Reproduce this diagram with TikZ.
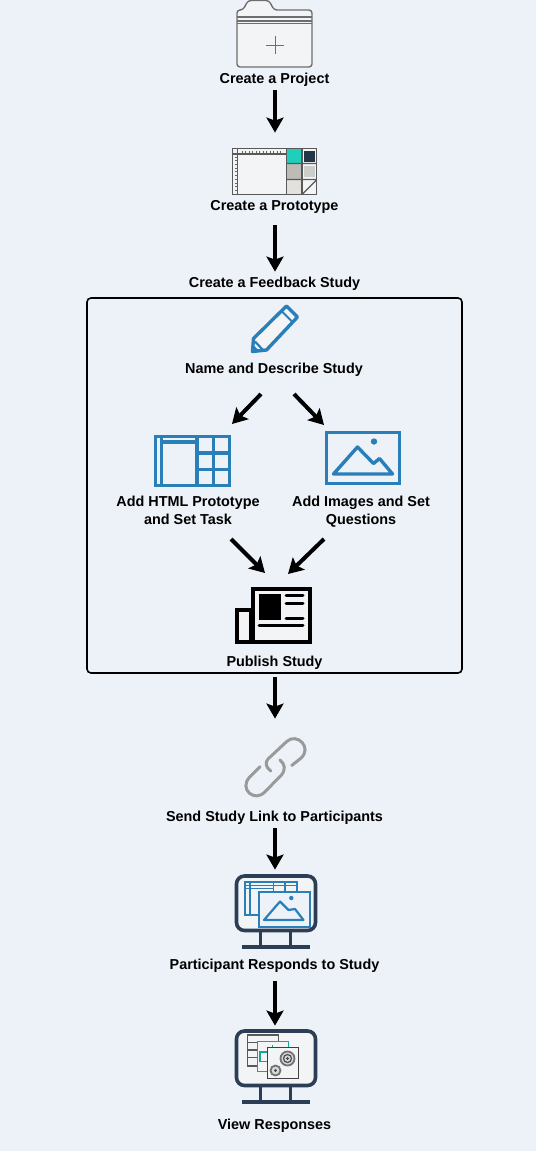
\documentclass[tikz,border=0pt]{standalone}
\usepackage{fontspec}
\setmainfont{Liberation Sans}
\usetikzlibrary{arrows.meta,positioning}
\definecolor{PageBg}{HTML}{EDF2F9}
\definecolor{IconBlue}{HTML}{2B7FB8}
\definecolor{ScreenInk}{HTML}{2B3E55}
\definecolor{FolderGrey}{HTML}{6E6E6E}
\definecolor{LinkGrey}{HTML}{9A9A9A}
\definecolor{ProtoTeal}{HTML}{1FCFBB}
\definecolor{ProtoStone}{HTML}{BDBBB6}
\definecolor{ProtoPale}{HTML}{CDCDC9}
\definecolor{ProtoMist}{HTML}{E2E1DD}
\definecolor{PaperFill}{HTML}{F3F4F6}
\tikzset{
  steplabel/.style={font=\fontsize{7.2}{9}\selectfont\bfseries, align=center, inner sep=0pt, minimum height=12pt},
  iconspot/.style={inner sep=0pt},
  flow/.style={-{Stealth[length=7.5pt,width=8.5pt,inset=1.5pt]}, line width=2pt, black},
  blueline/.style={IconBlue, line width=1.7pt},
  thinblue/.style={IconBlue, line width=0.75pt},
  screenline/.style={ScreenInk, line width=1.8pt},
  protoline/.style={black!65, line width=0.6pt},
}
\begin{document}
\begin{tikzpicture}[x=0.5pt,y=-0.5pt]
  \fill[PageBg] (0,0) rectangle (536,1151);
  \useasboundingbox (0,0) rectangle (536,1151);
  % labels
  \node[steplabel] (lblProject) at (274.5,80) {Create a Project};
  \node[steplabel] (lblProto) at (274.5,207) {Create a Prototype};
  \node[steplabel] (lblStudy) at (274.5,284) {Create a Feedback Study};
  \node[steplabel] (lblName) at (274,370) {Name and Describe Study};
  \node[steplabel] (lblHtml) at (188,510) {Add HTML Prototype\\and Set Task};
  \node[steplabel] (lblImages) at (361,512) {Add Images and Set\\Questions};
  \node[steplabel] (lblPublish) at (274.5,663) {Publish Study};
  \node[steplabel] (lblSend) at (274.5,818) {Send Study Link to Participants};
  \node[steplabel] (lblResponds) at (274.5,966) {Participant Responds to Study};
  \node[steplabel] (lblView) at (274.5,1126) {View Responses};
  % the study frame and the spots that arrows run to
  \node[draw=black, line width=0.8pt, rounded corners=2pt, inner sep=0pt, minimum width=187.5pt, minimum height=187.5pt] (studyBox) at (274.5,485.5) {};
  \node[iconspot, minimum width=42pt, minimum height=32pt] (icProto) at (275,165) {};
  \node[iconspot, minimum width=30pt, minimum height=38pt] (icLink) at (275,757) {};
  \node[iconspot, minimum width=40pt, minimum height=40pt] (icScreenA) at (275,910) {};
  \node[iconspot, minimum width=40pt, minimum height=40pt] (icScreenB) at (275,1066) {};
  \coordinate (nameLeft) at (261,394);
  \coordinate (nameRight) at (294,394);
  \coordinate (htmlTop) at (232,424);
  \coordinate (imageTop) at (324,425);
  \coordinate (htmlOut) at (231,539);
  \coordinate (imageOut) at (324,539);
  \coordinate (publishLeft) at (265,573);
  \coordinate (publishRight) at (288,574);
  % arrows
  \draw[flow, shorten <=-1pt] (lblProject.south -| icProto) -- (icProto.north);
  \draw[flow, shorten <=3pt] (lblProto.south -| icProto) -- (lblStudy.north -| icProto);
  \draw[flow] (nameLeft) -- (htmlTop);
  \draw[flow] (nameRight) -- (imageTop);
  \draw[flow] (htmlOut) -- (publishLeft);
  \draw[flow] (imageOut) -- (publishRight);
  \draw[flow, shorten <=1.5pt] (studyBox.south -| icLink) -- (icLink.north);
  \draw[flow, shorten <=-1pt] (lblSend.south -| icScreenA) -- (icScreenA.north);
  \draw[flow, shorten <=1.5pt] (lblResponds.south -| icScreenB) -- (icScreenB.north);
  % folder
  \draw[FolderGrey, fill=PaperFill, line width=0.7pt, rounded corners=1.5pt]
    (237,67) -- (237,10) -- (243,10) -- (248,0.5) -- (269,0.5) -- (274,10) -- (312,10) -- (312,67) -- cycle;
  \foreach \y/\w in {17/0.9, 21/0.7, 23.5/0.7}
    {\draw[FolderGrey, line width=\w pt] (237,\y) -- (312,\y);}
  \draw[FolderGrey, line width=0.5pt] (266,45) -- (284,45) (275,36) -- (275,54);
  % prototype sheet
  \fill[PaperFill] (232.5,148.5) rectangle (316.5,194.5);
  \fill[ProtoTeal] (287,149) rectangle (302,163.5);
  \fill[ScreenInk!85!black] (303.5,150.5) rectangle (315,161.5);
  \fill[ProtoStone] (287,164) rectangle (302,179);
  \fill[ProtoPale] (304,166) rectangle (315,177);
  \fill[ProtoMist] (287,180) rectangle (302,194);
  \draw[protoline] (232.5,148.5) rectangle (316.5,194.5);
  \draw[protoline] (237.5,148.5) -- (237.5,194.5) (232.5,154) -- (286.5,154);
  \draw[protoline] (286.5,148.5) -- (286.5,194.5) (302,148.5) -- (302,194.5);
  \draw[protoline] (286.5,163.5) -- (316.5,163.5) (286.5,179.5) -- (316.5,179.5) (302,194.5) -- (316.5,180);
  \foreach \x in {0,...,11}
    {\draw[black!60, line width=0.4pt] (242+3.5*\x,150.5) -- (242+3.5*\x,153);}
  \foreach \y in {0,...,9}
    {\draw[black!60, line width=0.4pt] (234.5,157+3.7*\y) -- (237.5,157+3.7*\y);}
  % pencil
  \draw[blueline, fill=PaperFill, line join=round]
    (253.5,338.5) -- (286.5,306) -- (297.5,317) -- (266.5,350) -- (252.5,351.5) -- cycle;
  \draw[IconBlue, line width=1.1pt] (255,341.5) -- (263.5,350.5);
  \draw[IconBlue, line width=1pt] (281.5,311) -- (292.5,322);
  \fill[IconBlue] (252.5,351.5) -- (253.5,345) -- (259,350.5) -- cycle;
  % html layout
  \draw[blueline] (155.5,436.5) rectangle (229.5,485.5);
  \draw[blueline] (161.5,436.5) -- (161.5,485.5) (161.5,442) -- (197,442);
  \draw[blueline] (197,436.5) -- (197,485.5) (213.5,436.5) -- (213.5,485.5);
  \draw[blueline] (197,453) -- (229.5,453) (197,469.5) -- (229.5,469.5);
  % image frame
  \draw[blueline] (326.5,432.5) rectangle (399.5,483.5);
  \draw[blueline, line join=round] (333.5,474) -- (357.5,447) -- (373.5,463.5) -- (379.5,458.5) -- (392.5,474) -- cycle;
  \fill[IconBlue] (374,441.5) circle (1.6pt);
  % newspaper
  \draw[black, fill=PaperFill, line width=2pt] (252.5,588.5) rectangle (310,641.5);
  \draw[black, fill=PaperFill, line width=2pt] (237,609.5) rectangle (251,641.5);
  \fill[black] (259,594) rectangle (281,620);
  \foreach \y in {595,603.5,618.5}
    {\draw[black, line width=1.5pt, line cap=round] (286,\y) -- (303,\y);}
  \draw[black, line width=1.5pt, line cap=round] (259,625.5) -- (303,625.5);
  % chain link
  \draw[LinkGrey, line width=1.5pt, line cap=round]
    (270.7,771) .. controls (265.5,767) and (265,762.5) .. (268,759) -- (286.7,741.5)
    .. controls (297,732) and (313,748) .. (300.5,758.5) -- (291.7,765.5);
  \draw[LinkGrey, line width=1.5pt, line cap=round]
    (260,766.7) -- (250,776.7) .. controls (238,789) and (255,803) .. (265,791.7) -- (281,775.5)
    .. controls (286,770) and (285,764) .. (280,760);
  % monitors
  \foreach \sy in {0,155}{%
    \draw[screenline, fill=PaperFill, rounded corners=4pt] (236.5,876+\sy) rectangle (315.5,930.5+\sy);
    \draw[screenline] (260.5,931+\sy) -- (260.5,947+\sy) (290.5,931+\sy) -- (290.5,947+\sy);
    \draw[screenline] (242,947+\sy) -- (310,947+\sy);}
  % responding screen
  \draw[thinblue, line width=1pt] (244.5,881.5) rectangle (296.5,915);
  \draw[thinblue] (250,881.5) -- (250,915) (244.5,885.5) -- (296.5,885.5) (244.5,888.5) -- (273.5,888.5);
  \draw[thinblue] (273.5,881.5) -- (273.5,915) (285,881.5) -- (285,915);
  \draw[thinblue, line width=1pt, fill=PageBg] (258.5,891.5) rectangle (310,926.5);
  \draw[thinblue, line width=1.1pt, line join=round] (264,920) -- (280,901.5) -- (288.5,910) -- (295,909) -- (303.5,920) -- cycle;
  \fill[IconBlue] (291.3,898) circle (1.1pt);
  % results screen
  \draw[black!65, fill=PaperFill, line width=0.7pt] (247.5,1035) rectangle (278.5,1066);
  \foreach \y in {1042.5,1050,1057.5}
    {\draw[black!65, line width=0.7pt] (247.5,\y) -- (258,\y);}
  \draw[ProtoTeal!80!black, fill=PaperFill, line width=0.6pt] (257.5,1041.5) rectangle (288.5,1071.5);
  \draw[ProtoTeal!80!black, line width=0.8pt] (268,1052) -- (260,1052) -- (260,1061.5) -- (268,1061.5);
  \draw[ProtoTeal!80!black, line width=0.8pt] (272.5,1045) -- (272.5,1047);
  \draw[black!75, fill=PaperFill, line width=0.7pt] (267.5,1047.5) rectangle (298.5,1078.5);
  \draw[black!55, fill=black!15, line width=0.9pt] (287.5,1058.5) circle (3.5pt);
  \draw[black!70, line width=0.6pt] (287.5,1058.5) circle (2pt);
  \fill[black!70] (287.5,1058.5) circle (0.8pt);
  \draw[black!55, fill=black!15, line width=0.9pt] (275.5,1070.5) circle (2.5pt);
  \fill[black!70] (275.5,1070.5) circle (0.8pt);
\end{tikzpicture}
\end{document}
